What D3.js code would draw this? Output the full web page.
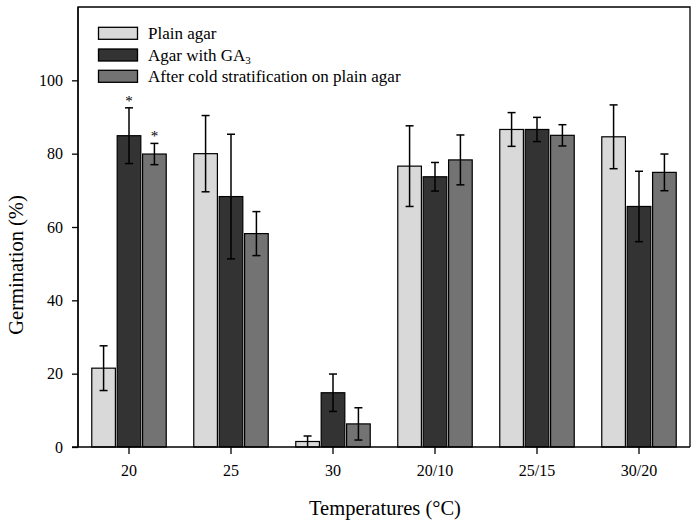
<!DOCTYPE html>
<html><head><meta charset="utf-8">
<script src="https://cdn.jsdelivr.net/npm/d3@7"></script>
<style>body{margin:0;background:#fff}svg{display:block}text{font-family:"Liberation Serif","Times New Roman",serif}</style>
</head><body>
<svg id="c" width="693" height="524"></svg>
<script>
const categories = ["20","25","30","20/10","25/15","30/20"];
const seriesNames = ["Plain agar","Agar with GA3","After cold stratification on plain agar"];
const plainAgar   = [21.5, 80.0, 1.5, 76.6, 86.6, 84.6];
const plainErr    = [6.1, 10.4, 1.5, 11.0, 4.6, 8.7];
const gaAgar      = [84.9, 68.3, 14.8, 73.7, 86.6, 65.6];
const gaErr       = [7.6, 17.0, 5.1, 3.9, 3.3, 9.6];
const coldAgar    = [79.9, 58.2, 6.3, 78.3, 85.0, 74.9];
const coldErr     = [2.9, 6.0, 4.4, 6.8, 2.9, 5.0];
const significant = [[false,true,true],[false,false,false],[false,false,false],[false,false,false],[false,false,false],[false,false,false]];
const yTicks = [0,20,40,60,80,100];
const colors = ["#d9d9d9","#333333","#737373"];

const values = [plainAgar, gaAgar, coldAgar];
const errs = [plainErr, gaErr, coldErr];

const svg = d3.select("#c");
const L = 78, R = 690, T = 7, B = 447;
const x = d3.scaleBand().domain(categories).range([L, R]).paddingInner(0).paddingOuter(0);
const x1 = d3.scaleBand().domain([0,1,2]).range([0, x.bandwidth()*0.73]).paddingInner(0.07);
const y = d3.scaleLinear().domain([0,120]).range([B, T]);
const off = (x.bandwidth() - x.bandwidth()*0.73)/2;

const g = svg.append("g");
categories.forEach((c, i) => {
  const gx = x(c) + off;
  [0,1,2].forEach(s => {
    const v = values[s][i], e = errs[s][i];
    const bx = gx + x1(s);
    g.append("rect").attr("x", bx).attr("y", y(v)).attr("width", x1.bandwidth()).attr("height", y(0)-y(v))
      .attr("fill", colors[s]).attr("stroke", "#000").attr("stroke-width", 1.2);
    const cx = bx + x1.bandwidth()/2;
    const lo = Math.max(0, v - e), hi = v + e;
    g.append("line").attr("x1", cx).attr("x2", cx).attr("y1", y(lo)).attr("y2", y(hi)).attr("stroke","#000").attr("stroke-width",1.5);
    [hi, lo].forEach(yy => {
      if (yy <= 0) return;
      g.append("line").attr("x1", cx-4).attr("x2", cx+4).attr("y1", y(yy)).attr("y2", y(yy)).attr("stroke","#000").attr("stroke-width",1.5);
    });
    if (significant[i][s]) {
      g.append("text").attr("x", cx).attr("y", y(hi)-2).attr("text-anchor","middle").attr("font-size",15).text("*");
    }
  });
});

// frame
svg.append("path").attr("d", `M${L},${B}V${T}H${R}V${B}`).attr("fill","none").attr("stroke","#000").attr("stroke-width",1.3);

// axes
const ya = svg.append("g").attr("transform", `translate(${L},0)`)
  .call(d3.axisLeft(y).tickValues(yTicks).tickSize(6).tickPadding(9));
const xa = svg.append("g").attr("transform", `translate(0,${B})`)
  .call(d3.axisBottom(x).tickSize(7).tickPadding(11));
[ya, xa].forEach(a => {
  a.select(".domain").attr("stroke","#000").attr("stroke-width",1.3);
  a.selectAll(".tick line").attr("stroke","#000").attr("stroke-width",1.3);
  a.selectAll(".tick text").attr("font-family","Liberation Serif, serif").attr("font-size",16).attr("fill","#000");
});
ya.select(".domain").attr("d", `M0,${B}V${T}`);
xa.select(".domain").attr("d", `M${L-6},0H${R}`);

// axis titles
svg.append("text").attr("x", 385).attr("y", 515).attr("text-anchor","middle").attr("font-size",20.5).text("Temperatures (°C)");
svg.append("text").attr("transform", `translate(23,265) rotate(-90)`).attr("text-anchor","middle").attr("font-size",20.5).text("Germination (%)");

// legend
const lg = svg.append("g");
const rows = [33.3, 55, 76.3];
seriesNames.forEach((n, s) => {
  lg.append("rect").attr("x", 98.5).attr("y", rows[s]-6).attr("width", 39).attr("height", 12)
    .attr("fill", colors[s]).attr("stroke","#000").attr("stroke-width",1.3);
  const t = lg.append("text").attr("x", 148).attr("y", rows[s]+5.5).attr("font-size",17);
  if (n === "Agar with GA3") {
    t.append("tspan").text("Agar with GA");
    t.append("tspan").attr("font-size",11).attr("dy",3).text("3");
  } else t.text(n);
});
</script>
</body></html>
